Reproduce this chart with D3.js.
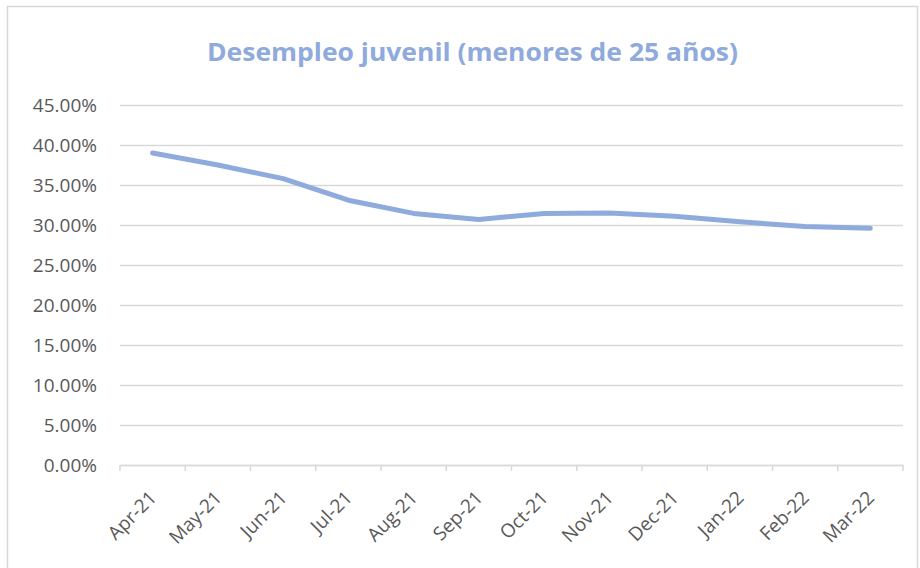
<html>
<head>
<meta charset="utf-8">
<script src="https://d3js.org/d3.v7.min.js"></script>
<style>
  body { margin: 0; background: #fff; }
</style>
</head>
<body>
<div id="chart"></div>
<script>
    // data
    var months = ["Apr-21", "May-21", "Jun-21", "Jul-21", "Aug-21", "Sep-21",
                  "Oct-21", "Nov-21", "Dec-21", "Jan-22", "Feb-22", "Mar-22"];
    var rates = [0.390, 0.375, 0.358, 0.331, 0.3145, 0.307,
                 0.3145, 0.315, 0.311, 0.304, 0.298, 0.296];
    var yTicks = [0, 0.05, 0.10, 0.15, 0.20, 0.25, 0.30, 0.35, 0.40, 0.45];
    var title = "Desempleo juvenil (menores de 25 años)";

    var W = 920, H = 568;
    var margin = { top: 105, right: 17, bottom: 103, left: 120 },
        width = W - margin.left - margin.right,
        height = H - margin.top - margin.bottom;

    var svg = d3.select("#chart").append("svg")
        .attr("width", W)
        .attr("height", H);

    // chart frame
    svg.append("rect")
        .attr("x", 7.5).attr("y", 6.5)
        .attr("width", 910).attr("height", 580)
        .attr("fill", "none")
        .attr("stroke", "#d9d9d9")
        .attr("stroke-width", 1.5);

    var g = svg.append("g")
        .attr("transform", "translate(" + margin.left + "," + margin.top + ")");

    var x = d3.scaleBand().domain(months).range([0, width]),
        y = d3.scaleLinear().domain([0, 0.45]).range([height, 0]);

    var fmt = d3.format(".2%");

    // y axis: gridlines + labels
    var yAxis = g.append("g")
        .call(d3.axisLeft(y).tickValues(yTicks).tickFormat(fmt).tickSize(-width).tickPadding(23));
    yAxis.select(".domain").remove();
    yAxis.selectAll(".tick line").attr("stroke", "#d9d9d9").attr("stroke-width", 1.5);
    yAxis.selectAll(".tick text")
        .attr("fill", "#595959")
        .style("font-family", "'Open Sans', sans-serif")
        .style("font-size", "19px");

    // x axis
    var xAxis = g.append("g")
        .attr("transform", "translate(0," + height + ")")
        .call(d3.axisBottom(x).tickSize(0));
    xAxis.select(".domain").attr("stroke", "#d9d9d9").attr("stroke-width", 1.5);
    xAxis.selectAll(".tick text")
        .attr("fill", "#595959")
        .style("font-family", "'Open Sans', sans-serif")
        .style("font-size", "19px")
        .style("text-anchor", "end")
        .attr("x", 0)
        .attr("y", 0)
        .attr("dy", 0)
        .attr("transform", "translate(5,34) rotate(-45)");

    // tick marks between categories
    var edges = months.map(function(m) { return x(m); }).concat([width]);
    xAxis.selectAll(".sep")
        .data(edges)
        .enter().append("line")
        .attr("class", "sep")
        .attr("x1", function(d) { return d; })
        .attr("x2", function(d) { return d; })
        .attr("y1", 0)
        .attr("y2", 6)
        .attr("stroke", "#d9d9d9")
        .attr("stroke-width", 1.5);

    // line
    var line = d3.line()
        .x(function(d, i) { return x(months[i]) + x.bandwidth() / 2; })
        .y(function(d) { return y(d); });

    g.append("path")
        .datum(rates)
        .attr("d", line)
        .attr("fill", "none")
        .attr("stroke", "#8faadc")
        .attr("stroke-width", 5)
        .attr("stroke-linecap", "round")
        .attr("stroke-linejoin", "round");

    // title
    svg.append("text")
        .attr("x", 472.5)
        .attr("y", 61)
        .attr("text-anchor", "middle")
        .attr("fill", "#8faadc")
        .style("font-family", "'Open Sans', sans-serif")
        .style("font-weight", "bold")
        .style("font-size", "25px")
        .attr("textLength", 531)
        .attr("lengthAdjust", "spacingAndGlyphs")
        .text(title);
</script>
</body>
</html>
